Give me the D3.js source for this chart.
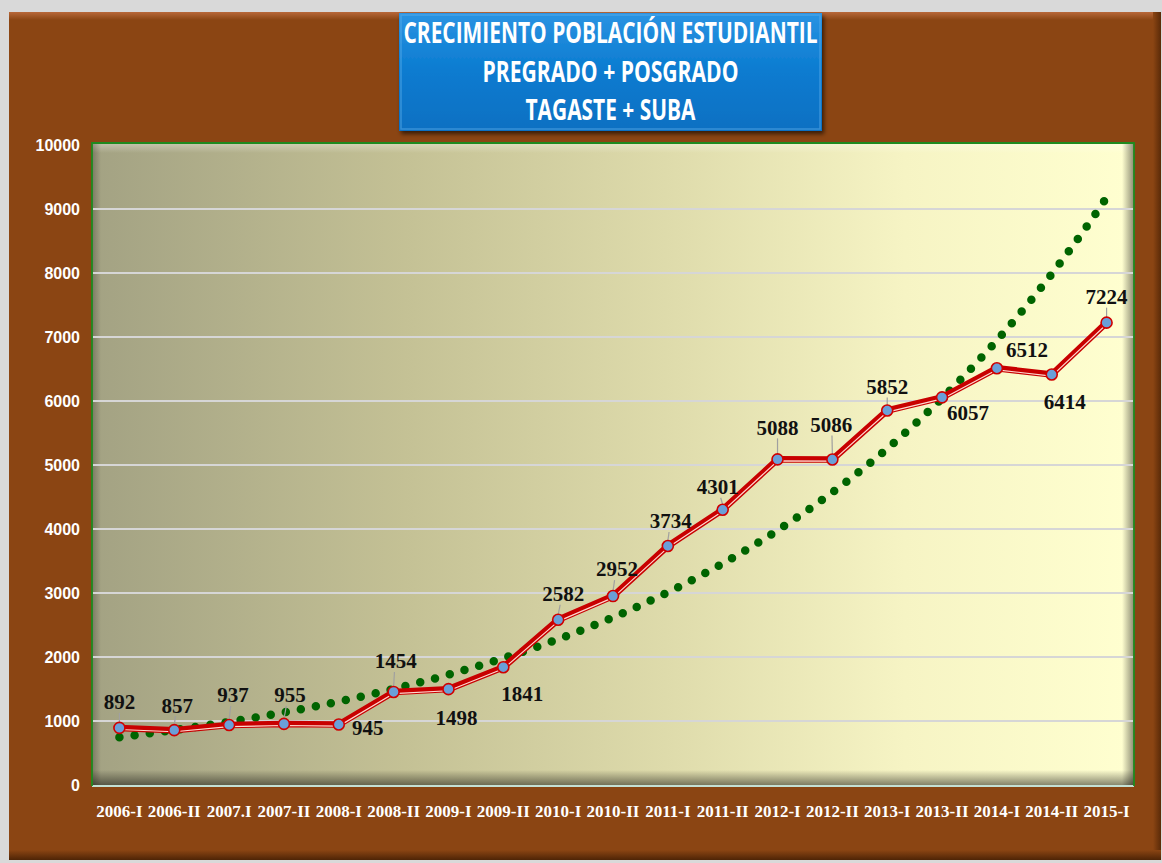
<!DOCTYPE html>
<html>
<head>
<meta charset="utf-8">
<script src="https://cdn.jsdelivr.net/npm/d3@7"></script>
<style>
  body { margin: 0; background: #d9d9d9; }
  svg { display: block; }
</style>
</head>
<body>
<div id="chart"></div>
<script>
// Data
var categories = ["2006-I", "2006-II", "2007.I", "2007-II", "2008-I", "2008-II", "2009-I", "2009-II",
  "2010-I", "2010-II", "2011-I", "2011-II", "2012-I", "2012-II", "2013-I", "2013-II", "2014-I", "2014-II", "2015-I"];
var students = [892, 857, 937, 955, 945, 1454, 1498, 1841, 2582, 2952, 3734, 4301, 5088, 5086, 5852, 6057, 6512, 6414, 7224];
var yTicks = [0, 1000, 2000, 3000, 4000, 5000, 6000, 7000, 8000, 9000, 10000];
var titleLines = ["CRECIMIENTO POBLACIÓN ESTUDIANTIL", "PREGRADO + POSGRADO", "TAGASTE + SUBA"];

// label offsets from the point (px), as placed in the picture
var labelOffsets = [[0, -26], [3, -25], [4, -30], [6, -29], [29, 3], [2, -31], [8, 29], [19, 26],
  [5, -26], [4, -27], [3, -25], [-5, -23], [0, -32], [-1, -35], [0, -24], [26, 15], [30, -19], [13, 27], [0, -26]];

var svgWidth = 1162;
var svgHeight = 863;
var plot = { left: 92, right: 1134, top: 143, bottom: 786 };

var svg = d3.select("#chart")
  .append("svg")
  .attr("width", svgWidth)
  .attr("height", svgHeight);

var defs = svg.append("defs");

function gradient(id, x2, y2, stops) {
  var g = defs.append("linearGradient").attr("id", id)
    .attr("x1", 0).attr("y1", 0).attr("x2", x2).attr("y2", y2);
  stops.forEach(s => g.append("stop").attr("offset", s[0]).attr("stop-color", s[1]).attr("stop-opacity", s[2] == null ? 1 : s[2]));
}

gradient("plotBg", 1, 0, [[0, "#a3a283"], [0.3, "#c4c195"], [0.55, "#dedbab"], [0.78, "#f6f4c4"], [1, "#ffffd0"]]);
gradient("shadeBottom", 0, 1, [[0, "#000", 0], [1, "#000", 0.5]]);
gradient("shadeRight", 1, 0, [[0, "#000", 0], [1, "#000", 0.45]]);
gradient("shadeLeft", 1, 0, [[0, "#000", 0.25], [1, "#000", 0]]);
gradient("shadeTop", 0, 1, [[0, "#fff", 0.35], [1, "#fff", 0]]);
gradient("titleBg", 0, 1, [[0, "#2a93e2"], [0.5, "#0a7bd0"], [1, "#0770c2"]]);
gradient("frameTop", 0, 1, [[0, "#b8683a"], [1, "#8b4513"]]);
gradient("frameRight", 1, 0, [[0, "#8b4513"], [1, "#5a2a08"]]);
gradient("frameBottom", 0, 1, [[0, "#8b4513"], [1, "#4e2406"]]);

var shadow = defs.append("filter").attr("id", "drop").attr("x", "-10%").attr("y", "-10%").attr("width", "120%").attr("height", "130%");
shadow.append("feDropShadow").attr("dx", 2).attr("dy", 3).attr("stdDeviation", 2).attr("flood-color", "#000").attr("flood-opacity", 0.6);

// Brown frame
svg.append("rect").attr("x", 9).attr("y", 12).attr("width", 1152).attr("height", 848).attr("fill", "#8b4513");
svg.append("rect").attr("x", 9).attr("y", 12).attr("width", 1152).attr("height", 8).attr("fill", "url(#frameTop)");
svg.append("rect").attr("x", 1153).attr("y", 12).attr("width", 8).attr("height", 848).attr("fill", "url(#frameRight)");
svg.append("rect").attr("x", 9).attr("y", 850).attr("width", 1152).attr("height", 10).attr("fill", "url(#frameBottom)");

// Plot area
var pw = plot.right - plot.left, ph = plot.bottom - plot.top;
svg.append("rect").attr("x", plot.left).attr("y", plot.top).attr("width", pw).attr("height", ph).attr("fill", "url(#plotBg)");
svg.append("rect").attr("x", plot.left).attr("y", plot.top).attr("width", pw).attr("height", 10).attr("fill", "url(#shadeTop)");
svg.append("rect").attr("x", plot.left).attr("y", plot.top).attr("width", 9).attr("height", ph).attr("fill", "url(#shadeLeft)");
svg.append("rect").attr("x", plot.right - 12).attr("y", plot.top).attr("width", 12).attr("height", ph).attr("fill", "url(#shadeRight)");
svg.append("rect").attr("x", plot.left).attr("y", plot.bottom - 16).attr("width", pw).attr("height", 16).attr("fill", "url(#shadeBottom)");

// Scales
var xScale = d3.scaleBand().domain(categories).range([plot.left, plot.right]).padding(0);
var yScale = d3.scaleLinear().domain([0, 10000]).range([785, 145]);
var cx = d => xScale(d) + xScale.bandwidth() / 2;

// Gridlines
svg.append("g").selectAll("line")
  .data(yTicks.filter(t => t > 0 && t < 10000))
  .enter()
  .append("line")
  .attr("x1", plot.left + 1).attr("x2", plot.right - 1)
  .attr("y1", d => yScale(d)).attr("y2", d => yScale(d))
  .attr("stroke", "#d6d6d6").attr("stroke-width", 2);

// Plot border
svg.append("line").attr("x1", plot.left).attr("x2", plot.right).attr("y1", plot.bottom).attr("y2", plot.bottom)
  .attr("stroke", "#c4e0d4").attr("stroke-width", 2);
svg.append("path")
  .attr("d", `M${plot.left},${plot.bottom} V${plot.top} H${plot.right} V${plot.bottom}`)
  .attr("fill", "none").attr("stroke", "#1f8a1f").attr("stroke-width", 1.8);

// Axes
var leftAxis = d3.axisLeft(yScale).tickValues(yTicks).tickFormat(d3.format("d")).tickSize(0).tickPadding(12);
var yAxis = svg.append("g").attr("transform", `translate(${plot.left},0)`).call(leftAxis);
yAxis.select(".domain").remove();
yAxis.selectAll("text")
  .attr("fill", "#fff")
  .style("font-family", "'Liberation Sans', Arial, sans-serif")
  .style("font-weight", "bold")
  .style("font-size", "16px");

var bottomAxis = d3.axisBottom(xScale).tickSize(0);
var xAxis = svg.append("g").attr("transform", `translate(0,${plot.bottom})`).call(bottomAxis);
xAxis.select(".domain").remove();
xAxis.selectAll("text")
  .attr("y", 25).attr("dy", "0.35em")
  .attr("fill", "#fff")
  .style("font-family", "'Liberation Serif', 'Times New Roman', serif")
  .style("font-weight", "bold")
  .style("font-size", "17px");

// Exponential trendline (least squares on ln values, like Excel)
var n = students.length;
var lnv = students.map(v => Math.log(v));
var mx = d3.mean(d3.range(n)), my = d3.mean(lnv);
var sxy = d3.sum(d3.range(n), i => (i - mx) * (lnv[i] - my));
var sxx = d3.sum(d3.range(n), i => (i - mx) * (i - mx));
var b = sxy / sxx, a = my - b * mx;
var trendT = d3.range(0, n - 1 + 0.001, 0.1);
var x0 = cx(categories[0]);
var trendLine = d3.line()
  .x(t => x0 + t * xScale.step())
  .y(t => yScale(Math.exp(a + b * t)));
svg.append("path")
  .datum(trendT)
  .attr("d", trendLine)
  .attr("fill", "none")
  .attr("stroke", "#006400")
  .attr("stroke-width", 8.5)
  .attr("stroke-linecap", "round")
  .attr("stroke-dasharray", "0 15.3");

// Student line (red with white inner stripe)
var line = d3.line()
  .x((d, i) => cx(categories[i]))
  .y(d => yScale(d));
svg.append("path").datum(students).attr("d", line)
  .attr("fill", "none").attr("stroke", "#c80000").attr("stroke-width", 6.5).attr("stroke-linejoin", "round");
svg.append("path").datum(students).attr("d", line)
  .attr("transform", "translate(0,1.6)")
  .attr("fill", "none").attr("stroke", "#ffd8d0").attr("stroke-width", 1.2).attr("stroke-linejoin", "round");

// Leader lines for labels placed above their point
var points = students.map((v, i) => ({ v: v, cat: categories[i], off: labelOffsets[i] }));
svg.append("g").selectAll("line")
  .data(points.filter(p => p.off[1] < -20))
  .enter()
  .append("line")
  .attr("x1", p => cx(p.cat))
  .attr("y1", p => yScale(p.v) - 5)
  .attr("x2", p => cx(p.cat) + p.off[0] * 0.4)
  .attr("y2", p => yScale(p.v) + p.off[1] + 11)
  .attr("stroke", "#a0a0a0").attr("stroke-width", 1.2);

// Markers
svg.append("g").selectAll("circle")
  .data(points)
  .enter()
  .append("circle")
  .attr("cx", p => cx(p.cat))
  .attr("cy", p => yScale(p.v))
  .attr("r", 5.5)
  .attr("fill", "#6a9fd8")
  .attr("stroke", "#d00000")
  .attr("stroke-width", 1.6);

// Data labels
svg.append("g").selectAll("text")
  .data(points)
  .enter()
  .append("text")
  .attr("x", p => cx(p.cat) + p.off[0])
  .attr("y", p => yScale(p.v) + p.off[1])
  .attr("dy", "0.35em")
  .attr("text-anchor", "middle")
  .style("font-family", "'Liberation Serif', 'Times New Roman', serif")
  .style("font-weight", "bold")
  .style("font-size", "21px")
  .attr("fill", "#111")
  .text(p => p.v);

// Title box
svg.append("rect")
  .attr("x", 399).attr("y", 13).attr("width", 423).attr("height", 118)
  .attr("fill", "url(#titleBg)")
  .attr("filter", "url(#drop)");
svg.append("rect")
  .attr("x", 401).attr("y", 15).attr("width", 419).attr("height", 114)
  .attr("fill", "none").attr("stroke", "#5fb2ee").attr("stroke-opacity", 0.5).attr("stroke-width", 1.5);

var titleWidths = [414, 256, 170];
var titleY = [33, 72, 110];
svg.append("g").selectAll("text")
  .data(titleLines)
  .enter()
  .append("text")
  .attr("x", 610.5)
  .attr("y", (d, i) => titleY[i])
  .attr("dy", "0.36em")
  .attr("text-anchor", "middle")
  .attr("textLength", (d, i) => titleWidths[i])
  .attr("lengthAdjust", "spacingAndGlyphs")
  .attr("fill", "#fff")
  .style("font-family", "'Open Sans', 'Liberation Sans', sans-serif")
  .style("font-weight", "bold")
  .style("font-size", "28px")
  .text(d => d);
</script>
</body>
</html>
